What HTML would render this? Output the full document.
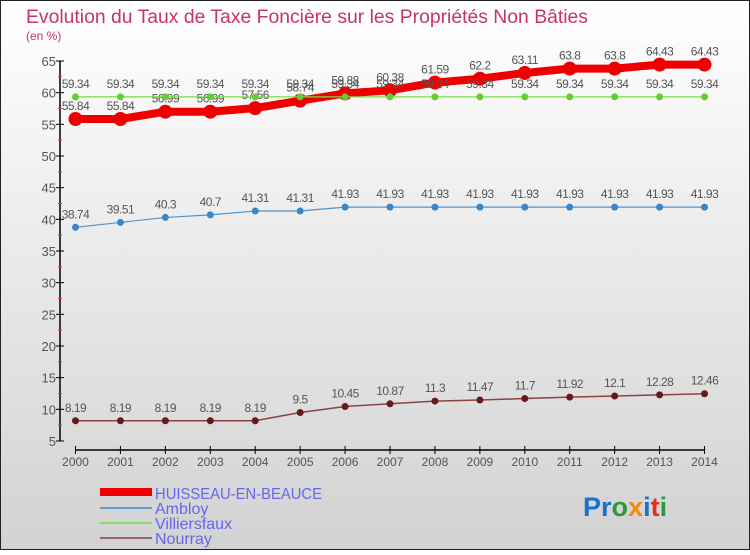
<!DOCTYPE html>
<html><head><meta charset="utf-8"><style>
body{margin:0;width:750px;height:550px;overflow:hidden;font-family:"Liberation Sans",sans-serif}
</style></head><body>
<svg id="chart" width="750" height="550" xmlns="http://www.w3.org/2000/svg">
<defs><linearGradient id="bg" x1="0" y1="0" x2="0" y2="1"><stop offset="0" stop-color="#ffffff"/><stop offset="1" stop-color="#d2d2d2"/></linearGradient></defs>
<rect x="0.5" y="0.5" width="749" height="549" fill="url(#bg)" stroke="#222" stroke-width="1"/>
<text x="26" y="23" font-size="19" fill="#c8336a" textLength="562" lengthAdjust="spacingAndGlyphs">Evolution du Taux de Taxe Foncière sur les Propriétés Non Bâties</text>
<text x="26" y="40" font-size="12" fill="#c8336a">(en %)</text>
<g id="axes"></g>
<g id="series"></g>
<g id="legend">
<rect x="100" y="488" width="52" height="8" fill="#ee0000"/>
<text x="155" y="499" font-size="16" fill="#6666ee" textLength="167" lengthAdjust="spacingAndGlyphs">HUISSEAU-EN-BEAUCE</text>
<rect x="100" y="507" width="52" height="2" fill="#5a9cd0"/>
<text x="155" y="514" font-size="16" fill="#6666ee">Ambloy</text>
<rect x="100" y="522" width="52" height="2" fill="#88dd66"/>
<text x="155" y="529" font-size="16" fill="#6666ee">Villiersfaux</text>
<rect x="100" y="537" width="52" height="2" fill="#996666"/>
<text x="155" y="544" font-size="16" fill="#6666ee">Nourray</text>
</g>
<text x="583" y="516" font-size="27" font-weight="bold"><tspan fill="#1a6fd0">Pr</tspan><tspan fill="#2a9a3a">o</tspan><tspan fill="#f08a10">x</tspan><tspan fill="#1a6fd0">i</tspan><tspan fill="#e03020">t</tspan><tspan fill="#2a9a3a">i</tspan></text>
</svg>
<script>
const years=[2000,2001,2002,2003,2004,2005,2006,2007,2008,2009,2010,2011,2012,2013,2014];
const huisseau=[55.84,55.84,56.99,56.99,57.56,58.74,59.88,60.38,61.59,62.2,63.11,63.8,63.8,64.43,64.43];
const ambloy=[38.74,39.51,40.3,40.7,41.31,41.31,41.93,41.93,41.93,41.93,41.93,41.93,41.93,41.93,41.93];
const villiersfaux=[59.34,59.34,59.34,59.34,59.34,59.34,59.34,59.34,59.34,59.34,59.34,59.34,59.34,59.34,59.34];
const nourray=[8.19,8.19,8.19,8.19,8.19,9.5,10.45,10.87,11.3,11.47,11.7,11.92,12.1,12.28,12.46];
const yTicks=[5,10,15,20,25,30,35,40,45,50,55,60,65];
const NS="http://www.w3.org/2000/svg";
function xs(i){return 75.5+i*44.93;}
function ys(v){return 61+(65-v)*6.333;}
function mk(tag,attrs,parent){const e=document.createElementNS(NS,tag);for(const k in attrs)e.setAttribute(k,attrs[k]);parent.appendChild(e);return e;}
const axes=document.getElementById('axes');
let a=mk('line',{x1:60,y1:ys(65),x2:60,y2:ys(5),stroke:'#000','stroke-width':1.5},axes);


yTicks.forEach(v=>{
 const t=mk('line',{x1:56,x2:64,y1:ys(v),y2:ys(v),stroke:'#000'},axes);
 
 
 const tx=mk('text',{x:56,y:ys(v)+5,'text-anchor':'end','font-size':13,fill:'#555'},axes);
 tx.textContent=v;
 
 
 if(v<65){const m=mk('line',{x1:58,x2:62,y1:ys(v+2.5),y2:ys(v+2.5),stroke:'#e33'},axes);
 
 }
});
a=mk('line',{x1:xs(0),y1:450,x2:xs(years.length-1),y2:450,stroke:'#000','stroke-width':1.5},axes);


years.forEach((y,i)=>{
 const t=mk('line',{x1:xs(i),x2:xs(i),y1:446,y2:454,stroke:'#000'},axes);
 
 
 const tx=mk('text',{x:xs(i),y:466,'text-anchor':'middle','font-size':12,fill:'#555'},axes);
 tx.textContent=y;
 
 
});
const sg=document.getElementById('series');
function series(name,vals,color,lw,r,fill){
 const g=mk('g',{},sg);
 
 
 const pl=mk('polyline',{points:vals.map((v,i)=>xs(i)+','+ys(v)).join(' '),fill:'none',stroke:color,'stroke-width':lw,'stroke-linejoin':'round'},g);
 
 
 vals.forEach((v,i)=>{
  const c=mk('circle',{cx:xs(i),cy:ys(v),r:r,fill:fill},g);
  
  
  const t=mk('text',{x:xs(i),y:ys(v)-9,'text-anchor':'middle','font-size':12,fill:'#555','letter-spacing':'-0.5'},g);
  t.textContent=v;
  
  
 });
}
series('huisseau',huisseau,'#ee0000',8,7,'#ee0000');
series('ambloy',ambloy,'#4d94cc',1.2,3.5,'#3a86c8');
series('villiersfaux',villiersfaux,'#77dd44',1.2,3.5,'#66cc33');
series('nourray',nourray,'#884444',1.5,3.5,'#661a1a');
</script>
</body></html>
